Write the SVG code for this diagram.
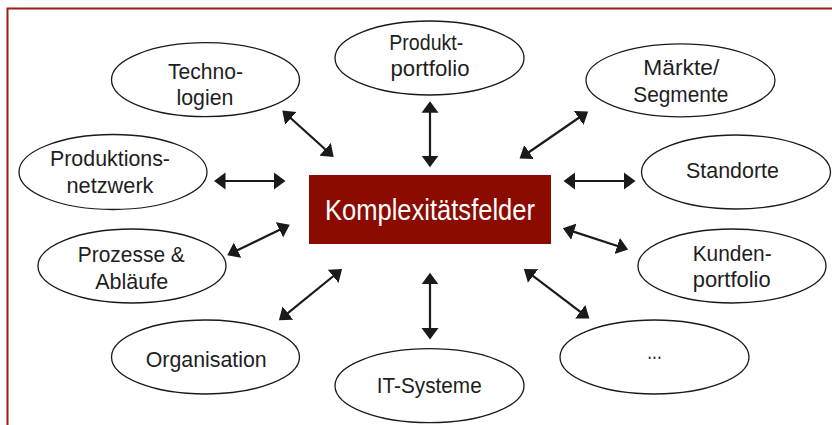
<svg xmlns="http://www.w3.org/2000/svg" width="832" height="425" viewBox="0 0 832 425">
<style>
  .node ellipse { fill: #ffffff; stroke: #1a1a1a; stroke-width: 1.3; }
  .lbl { font-family: "Liberation Sans", Arial, sans-serif; font-size: 22px; fill: #1e1e1e; text-anchor: middle; }
  .center-lbl { font-family: "Liberation Sans", Arial, sans-serif; font-size: 29px; fill: #ffffff; text-anchor: middle; }
  .conn line { stroke: #1a1a1a; stroke-width: 2.2; marker-start: url(#head); marker-end: url(#head); }
  .frame { fill: none; stroke: #9e1b1b; stroke-width: 2; }
</style>
<defs>
  <marker id="head" markerUnits="userSpaceOnUse" viewBox="0 -9 12 18" refX="6" refY="0" markerWidth="12" markerHeight="18" orient="auto-start-reverse">
    <path d="M0,-8.5 L11.5,0 L0,8.5 Z" fill="#1a1a1a"/>
  </marker>
</defs>
<rect width="832" height="425" fill="#ffffff"/>
<path class="frame" d="M7.5,425 L7.5,8.5 L832,8.5"/>

<g id="connectors" class="conn">
  <line x1="286.4" y1="114.3" x2="329.6" y2="153.3"/>
  <line x1="219.5" y1="181" x2="280" y2="181"/>
  <line x1="430" y1="106.7" x2="430" y2="161.7"/>
  <line x1="583.6" y1="114.5" x2="524.1" y2="155.5"/>
  <line x1="569" y1="181" x2="630" y2="181"/>
  <line x1="232.2" y1="252.8" x2="284.8" y2="227.2"/>
  <line x1="283.2" y1="316.8" x2="337.8" y2="272.5"/>
  <line x1="430" y1="278.3" x2="430" y2="334"/>
  <line x1="568.1" y1="229.9" x2="622.9" y2="247.8"/>
  <line x1="528.3" y1="272.3" x2="585" y2="315.3"/>
</g>

<g id="center">
  <rect x="309" y="175" width="242" height="69" fill="#8b0b00"/>
  <text class="center-lbl" x="430" y="219.5" textLength="210" lengthAdjust="spacingAndGlyphs">Komplexitätsfelder</text>
</g>

<g id="technologien" class="node">
  <ellipse cx="205.5" cy="79.7" rx="94" ry="37"/>
  <text class="lbl" x="205.5" y="79" textLength="75" lengthAdjust="spacingAndGlyphs">Techno-</text>
  <text class="lbl" x="205" y="105" textLength="57" lengthAdjust="spacingAndGlyphs">logien</text>
</g>
<g id="produktionsnetzwerk" class="node">
  <ellipse cx="113" cy="172" rx="94" ry="37.5"/>
  <text class="lbl" x="110" y="165.7" textLength="120" lengthAdjust="spacingAndGlyphs">Produktions-</text>
  <text class="lbl" x="110" y="192.7" textLength="87" lengthAdjust="spacingAndGlyphs">netzwerk</text>
</g>
<g id="produktportfolio" class="node">
  <ellipse cx="429.5" cy="58" rx="94.5" ry="37"/>
  <text class="lbl" x="426.3" y="50" textLength="74" lengthAdjust="spacingAndGlyphs">Produkt-</text>
  <text class="lbl" x="430" y="76" textLength="79" lengthAdjust="spacingAndGlyphs">portfolio</text>
</g>
<g id="maerkte" class="node">
  <ellipse cx="680.5" cy="80.3" rx="94.5" ry="36.5"/>
  <text class="lbl" x="681.3" y="74.5" textLength="76" lengthAdjust="spacingAndGlyphs">Märkte/</text>
  <text class="lbl" x="680.8" y="101.7" textLength="95" lengthAdjust="spacingAndGlyphs">Segmente</text>
</g>
<g id="standorte" class="node">
  <ellipse cx="736" cy="172" rx="94.5" ry="37"/>
  <text class="lbl" x="732.5" y="177.7" textLength="93" lengthAdjust="spacingAndGlyphs">Standorte</text>
</g>
<g id="prozesse" class="node">
  <ellipse cx="132" cy="266" rx="94" ry="37"/>
  <text class="lbl" x="131.3" y="261.7" textLength="107" lengthAdjust="spacingAndGlyphs">Prozesse &amp;</text>
  <text class="lbl" x="131.7" y="289" textLength="73" lengthAdjust="spacingAndGlyphs">Abläufe</text>
</g>
<g id="organisation" class="node">
  <ellipse cx="205.5" cy="357" rx="94" ry="37"/>
  <text class="lbl" x="206.2" y="366.7" textLength="121" lengthAdjust="spacingAndGlyphs">Organisation</text>
</g>
<g id="itsysteme" class="node">
  <ellipse cx="429.5" cy="385.7" rx="94.5" ry="37"/>
  <text class="lbl" x="429.2" y="393.3" textLength="105" lengthAdjust="spacingAndGlyphs">IT-Systeme</text>
</g>
<g id="kundenportfolio" class="node">
  <ellipse cx="732" cy="266" rx="94" ry="37"/>
  <text class="lbl" x="732.2" y="260.7" textLength="79" lengthAdjust="spacingAndGlyphs">Kunden-</text>
  <text class="lbl" x="731.7" y="287.3" textLength="78" lengthAdjust="spacingAndGlyphs">portfolio</text>
</g>
<g id="weitere" class="node">
  <ellipse cx="654.5" cy="357" rx="94.5" ry="37"/>
  <text class="lbl" x="654.5" y="359" textLength="14.5" lengthAdjust="spacingAndGlyphs">...</text>
</g>
</svg>
